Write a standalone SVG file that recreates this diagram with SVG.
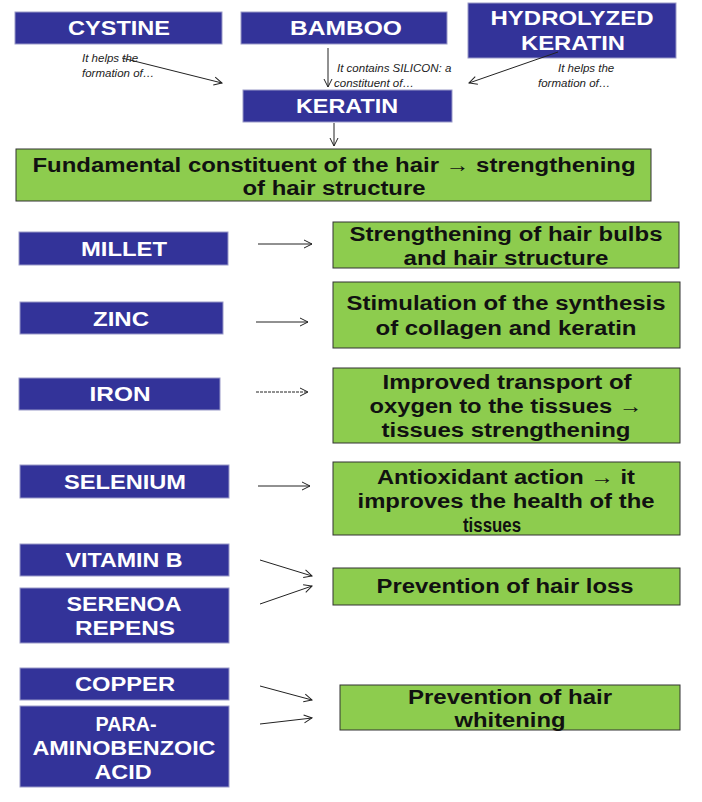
<svg xmlns="http://www.w3.org/2000/svg" width="702" height="802" viewBox="0 0 702 802">
<defs>
<marker id="ah" markerWidth="10" markerHeight="10" refX="9" refY="5" orient="auto" markerUnits="userSpaceOnUse"><path d="M1,1 L9,5 L1,9" fill="none" stroke="#222" stroke-width="1"/></marker>
<style>
.b{fill:#333399;stroke:#9a9ac8;stroke-width:1}
.g{fill:#8dcc4e;stroke:#333;stroke-width:1}
.bt{fill:#fff;font-family:"Liberation Sans",Arial,sans-serif;font-weight:bold;font-size:20px;text-anchor:middle}
.gt{fill:#111;font-family:"Liberation Sans",Arial,sans-serif;font-weight:bold;font-size:20px;text-anchor:middle}
.it{fill:#222;font-family:"Liberation Sans",Arial,sans-serif;font-style:italic;font-size:11.5px}
.c{stroke:#222;stroke-width:1;fill:none;marker-end:url(#ah)}
</style>
</defs>
<rect width="702" height="802" fill="#fff"/>
<g id="cystine"><rect class="b" x="15" y="12" width="207" height="32"/><text class="bt" x="119" y="35" textLength="102" lengthAdjust="spacingAndGlyphs">CYSTINE</text></g>
<g id="bamboo"><rect class="b" x="241" y="12" width="206" height="32"/><text class="bt" x="346" y="35" textLength="112" lengthAdjust="spacingAndGlyphs">BAMBOO</text></g>
<g id="hydrolyzed"><rect class="b" x="468" y="3" width="208" height="55"/><text class="bt" x="572" y="25" textLength="163" lengthAdjust="spacingAndGlyphs">HYDROLYZED</text><text class="bt" x="573" y="50" textLength="104" lengthAdjust="spacingAndGlyphs">KERATIN</text></g>
<g id="keratin"><rect class="b" x="243" y="90" width="209" height="32"/><text class="bt" x="347" y="113" textLength="102" lengthAdjust="spacingAndGlyphs">KERATIN</text></g>
<g id="fundamental"><rect class="g" x="16" y="149" width="635" height="52"/><text class="gt" x="334" y="172" textLength="603" lengthAdjust="spacingAndGlyphs">Fundamental constituent of the hair → strengthening</text><text class="gt" x="334" y="195" textLength="183" lengthAdjust="spacingAndGlyphs">of hair structure</text></g>
<g id="millet"><rect class="b" x="19" y="232" width="209" height="33"/><text class="bt" x="124" y="256" textLength="86" lengthAdjust="spacingAndGlyphs">MILLET</text></g>
<g id="r1"><rect class="g" x="333" y="222" width="346" height="46"/><text class="gt" x="506" y="241" textLength="313" lengthAdjust="spacingAndGlyphs">Strengthening of hair bulbs</text><text class="gt" x="506" y="265" textLength="205" lengthAdjust="spacingAndGlyphs">and hair structure</text></g>
<g id="zinc"><rect class="b" x="20" y="302" width="203" height="32"/><text class="bt" x="121" y="326" textLength="56" lengthAdjust="spacingAndGlyphs">ZINC</text></g>
<g id="r2"><rect class="g" x="333" y="282" width="347" height="66"/><text class="gt" x="506" y="310" textLength="319" lengthAdjust="spacingAndGlyphs">Stimulation of the synthesis</text><text class="gt" x="506" y="335" textLength="261" lengthAdjust="spacingAndGlyphs">of collagen and keratin</text></g>
<g id="iron"><rect class="b" x="19" y="378" width="201" height="32"/><text class="bt" x="120" y="401" textLength="61" lengthAdjust="spacingAndGlyphs">IRON</text></g>
<g id="r3"><rect class="g" x="333" y="368" width="347" height="75"/><text class="gt" x="507" y="389" textLength="249" lengthAdjust="spacingAndGlyphs">Improved transport of</text><text class="gt" x="506" y="413" textLength="273" lengthAdjust="spacingAndGlyphs">oxygen to the tissues →</text><text class="gt" x="506" y="437" textLength="249" lengthAdjust="spacingAndGlyphs">tissues strengthening</text></g>
<g id="selenium"><rect class="b" x="20" y="465" width="209" height="33"/><text class="bt" x="125" y="489" textLength="122" lengthAdjust="spacingAndGlyphs">SELENIUM</text></g>
<g id="r4"><rect class="g" x="333" y="462" width="347" height="73"/><text class="gt" x="506" y="484" textLength="258" lengthAdjust="spacingAndGlyphs">Antioxidant action → it</text><text class="gt" x="506" y="508" textLength="297" lengthAdjust="spacingAndGlyphs">improves the health of the</text><text class="gt" x="492" y="532" textLength="58" lengthAdjust="spacingAndGlyphs">tissues</text></g>
<g id="vitaminb"><rect class="b" x="20" y="544" width="209" height="32"/><text class="bt" x="124" y="567" textLength="117" lengthAdjust="spacingAndGlyphs">VITAMIN B</text></g>
<g id="serenoa"><rect class="b" x="20" y="588" width="209" height="55"/><text class="bt" x="124" y="611" textLength="115" lengthAdjust="spacingAndGlyphs">SERENOA</text><text class="bt" x="125" y="635" textLength="100" lengthAdjust="spacingAndGlyphs">REPENS</text></g>
<g id="r5"><rect class="g" x="333" y="568" width="347" height="37"/><text class="gt" x="505" y="593" textLength="257" lengthAdjust="spacingAndGlyphs">Prevention of hair loss</text></g>
<g id="copper"><rect class="b" x="20" y="668" width="209" height="32"/><text class="bt" x="125" y="691" textLength="100" lengthAdjust="spacingAndGlyphs">COPPER</text></g>
<g id="paba"><rect class="b" x="20" y="706" width="209" height="81"/><text class="bt" x="126" y="731" textLength="61" lengthAdjust="spacingAndGlyphs">PARA-</text><text class="bt" x="124" y="755" textLength="183" lengthAdjust="spacingAndGlyphs">AMINOBENZOIC</text><text class="bt" x="123" y="779" textLength="57" lengthAdjust="spacingAndGlyphs">ACID</text></g>
<g id="r6"><rect class="g" x="340" y="685" width="340" height="45"/><text class="gt" x="510" y="704" textLength="204" lengthAdjust="spacingAndGlyphs">Prevention of hair</text><text class="gt" x="510" y="727" textLength="111" lengthAdjust="spacingAndGlyphs">whitening</text></g>
<g id="connectors">
<path class="c" d="M122,58 L222,83"/>
<path class="c" d="M328,48 L328,87"/>
<path class="c" d="M558,52 L469,83"/>
<path class="c" d="M334,123 L334,146"/>
<path class="c" d="M258,244 L312,244"/>
<path class="c" d="M256,322 L308,322"/>
<path class="c" d="M256,392 L308,392" stroke-dasharray="3,1"/>
<path class="c" d="M258,486 L310,486"/>
<path class="c" d="M260,560 L312,576"/>
<path class="c" d="M260,604 L312,586"/>
<path class="c" d="M260,686 L312,700"/>
<path class="c" d="M260,724 L312,718"/>
<text class="it" x="82" y="62">It helps the</text>
<text class="it" x="82" y="77">formation of…</text>
<text class="it" x="337" y="72">It contains SILICON: a</text>
<text class="it" x="334" y="87">constituent of…</text>
<text class="it" x="558" y="72">It helps the</text>
<text class="it" x="538" y="87">formation of…</text>
</g>
</svg>
